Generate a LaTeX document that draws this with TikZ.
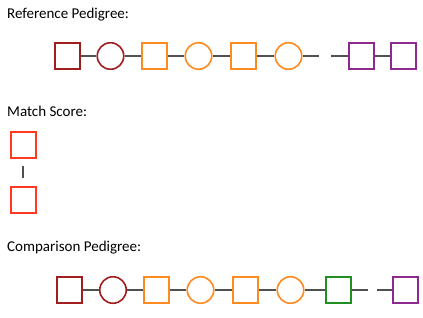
\documentclass[tikz,border=0pt]{standalone}
\usepackage{fontspec}
\setmainfont{Carlito}
\usetikzlibrary{positioning}
\definecolor{genA}{HTML}{A01E1E}
\definecolor{genB}{HTML}{FF8A1F}
\definecolor{genC}{HTML}{8E2A8F}
\definecolor{genD}{HTML}{1F8F1F}
\definecolor{scoreR}{HTML}{FF3A1E}
\definecolor{lienG}{HTML}{505050}
\tikzset{
  male/.style={rectangle, draw=#1, line width=2pt, minimum width=25pt, minimum height=26pt, inner sep=0pt},
  female/.style={circle, draw=#1, line width=1.6pt, minimum size=26.5pt, inner sep=0pt},
  link/.style={line width=1.8pt, draw=lienG},
  titre/.style={anchor=west, inner sep=0pt, font=\fontsize{15}{18}\selectfont},
}
\begin{document}
\begin{tikzpicture}[x=1pt, y=-1pt]
\useasboundingbox (0,0) rectangle (423,317);
% reference pedigree
\node[titre] (t1) at (7,15) {Reference Pedigree:};
\node[male=genA] (r1) at (67.5,56) {};
\node[female=genA] (r2) at (110.5,56) {};
\node[male=genB] (r3) at (154.5,56) {};
\node[female=genB] (r4) at (198.5,56) {};
\node[male=genB] (r5) at (243.5,56) {};
\node[female=genB] (r6) at (288.5,56) {};
\node[male=genC] (r7) at (361,56) {};
\node[male=genC] (r8) at (403.5,56) {};
\coordinate (rg1) at (319,56);
\coordinate (rg2) at (331,56);
\draw[link] (r1) -- (r2);
\draw[link] (r2) -- (r3);
\draw[link] (r3) -- (r4);
\draw[link] (r4) -- (r5);
\draw[link] (r5) -- (r6);
\draw[link] (r6) -- (rg1);
\draw[link] (rg2) -- (r7);
\draw[link] (r7) -- (r8);
% match score
\node[titre] (t2) at (7,111) {Match Score:};
\node[male=scoreR] (m1) at (23,144.5) {};
\node[male=scoreR] (m2) at (23,199.5) {};
\draw[link, line width=1.5pt, shorten <=7pt, shorten >=8pt] (m1) -- (m2);
% comparison pedigree
\node[titre] (t3) at (7,247.5) {Comparison Pedigree:};
\node[male=genA] (c1) at (69.5,290) {};
\node[female=genA] (c2) at (113,290) {};
\node[male=genB] (c3) at (156,290) {};
\node[female=genB] (c4) at (200.5,290) {};
\node[male=genB] (c5) at (245.5,290) {};
\node[female=genB] (c6) at (290.5,290) {};
\node[male=genD] (c7) at (338.5,290) {};
\node[male=genC] (c8) at (405,290) {};
\coordinate (cg1) at (368,290);
\coordinate (cg2) at (377,290);
\draw[link] (c1) -- (c2);
\draw[link] (c2) -- (c3);
\draw[link] (c3) -- (c4);
\draw[link] (c4) -- (c5);
\draw[link] (c5) -- (c6);
\draw[link] (c6) -- (c7);
\draw[link] (c7) -- (cg1);
\draw[link] (cg2) -- (c8);
\end{tikzpicture}
\end{document}
